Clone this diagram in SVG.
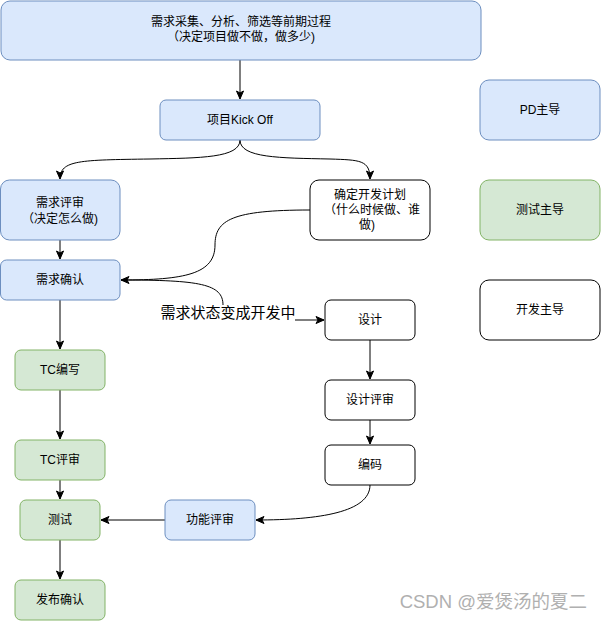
<svg xmlns="http://www.w3.org/2000/svg" width="601" height="621" viewBox="0 0 601 621">
<style>
.blue{fill:#dae8fc;stroke:#6c8ebf;stroke-width:1}
.green{fill:#d5e8d4;stroke:#82b366;stroke-width:1}
.white{fill:#ffffff;stroke:#000000;stroke-width:1}
text{font-family:"Liberation Sans","Noto Sans CJK SC",sans-serif;font-size:12px;fill:#000;text-anchor:middle;dominant-baseline:central}
.edge{fill:none;stroke:#000;stroke-width:1;marker-end:url(#arr)}
.plain{fill:none;stroke:#000;stroke-width:1}
.lbl{font-size:15px}
.wm{font-size:18.5px;fill:#b0b0b0;text-anchor:end}
</style>
<defs>
<marker id="arr" markerUnits="userSpaceOnUse" markerWidth="10" markerHeight="10" viewBox="0 0 10 10" refX="9" refY="5" orient="auto">
<path d="M1,1.5 L9,5 L1,8.5 L3,5 Z" fill="#000" stroke="#000" stroke-width="1"/>
</marker>
</defs>
<rect width="601" height="621" fill="#fff"/>
<g id="connectors">
<path class="edge" d="M240,60 L240,99"/>
<path class="edge" d="M240,140 C240,158 200,158 150,159 C80,160 60,160 60,179"/>
<path class="edge" d="M240,140 C240,158 280,158 330,159 C360,160 370,160 370,179"/>
<path class="edge" d="M60,240 L60,259"/>
<path class="edge" d="M310,210 C232,210 215,220 215,245 C215,274 185,280 121,280"/>
<path class="plain" d="M121,280 C200,280 223,284 223,305"/>
<path class="edge" d="M295,320 L324,320"/>
<path class="edge" d="M60,300 L60,349"/>
<path class="edge" d="M60,390 L60,439"/>
<path class="edge" d="M60,480 L60,499"/>
<path class="edge" d="M60,540 L60,579"/>
<path class="edge" d="M165,520 L101,520"/>
<path class="edge" d="M370,340 L370,379"/>
<path class="edge" d="M370,420 L370,444"/>
<path class="edge" d="M370,485 C370,512 320,520 256,520"/>
<text class="lbl" x="228" y="312">需求状态变成开发中</text>
</g>
<g id="n-top"><rect class="blue" x="1" y="1" width="480" height="59" rx="9"/><text x="241" y="22">需求采集、分析、筛选等前期过程</text><text x="241" y="37">（决定项目做不做，做多少)</text></g>
<g id="n-kickoff"><rect class="blue" x="160" y="100" width="160" height="40" rx="6"/><text x="240" y="120">项目Kick Off</text></g>
<g id="n-pd"><rect class="blue" x="480" y="80" width="120" height="60" rx="9"/><text x="540" y="110">PD主导</text></g>
<g id="n-review"><rect class="blue" x="0.5" y="180" width="119.5" height="60" rx="9"/><text x="60" y="203">需求评审</text><text x="60" y="219">（决定怎么做)</text></g>
<g id="n-plan"><rect class="white" x="310" y="180" width="120" height="60" rx="9"/><text x="370" y="195">确定开发计划</text><text x="372" y="210">（什么时候做、谁</text><text x="367" y="225">做)</text></g>
<g id="n-test-lead"><rect class="green" x="480" y="180" width="120" height="60" rx="9"/><text x="540" y="210">测试主导</text></g>
<g id="n-confirm"><rect class="blue" x="0.5" y="260" width="119.5" height="40" rx="6"/><text x="60" y="280">需求确认</text></g>
<g id="n-dev-lead"><rect class="white" x="480" y="280" width="120" height="60" rx="9"/><text x="540" y="310">开发主导</text></g>
<g id="n-design"><rect class="white" x="325" y="300" width="90" height="40" rx="6"/><text x="370" y="320">设计</text></g>
<g id="n-tcwrite"><rect class="green" x="15" y="350" width="90" height="40" rx="6"/><text x="60" y="370">TC编写</text></g>
<g id="n-designreview"><rect class="white" x="325" y="380" width="90" height="40" rx="6"/><text x="370" y="400">设计评审</text></g>
<g id="n-tcreview"><rect class="green" x="15" y="440" width="90" height="40" rx="6"/><text x="60" y="460">TC评审</text></g>
<g id="n-code"><rect class="white" x="325" y="445" width="90" height="40" rx="6"/><text x="370" y="465">编码</text></g>
<g id="n-test"><rect class="green" x="20" y="500" width="80" height="40" rx="6"/><text x="60" y="520">测试</text></g>
<g id="n-funcreview"><rect class="blue" x="165" y="500" width="90" height="40" rx="6"/><text x="210" y="520">功能评审</text></g>
<g id="n-release"><rect class="green" x="15" y="580" width="90" height="40" rx="6"/><text x="60" y="600">发布确认</text></g>
<text class="wm" x="587" y="601">CSDN @爱煲汤的夏二</text>
</svg>
